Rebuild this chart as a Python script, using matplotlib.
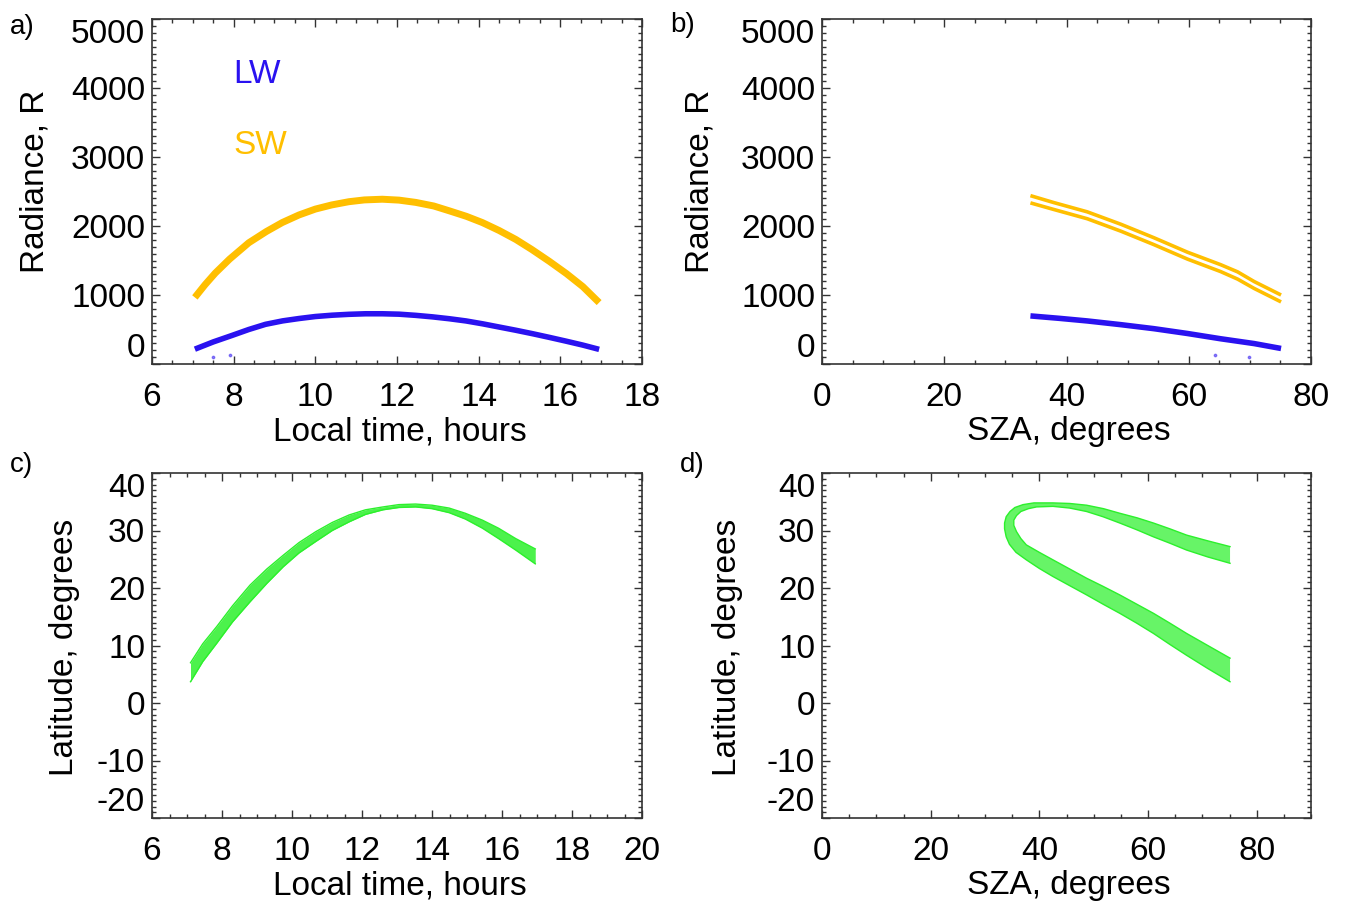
import numpy as np
import matplotlib
matplotlib.use("Agg")
import matplotlib.pyplot as plt
from matplotlib.ticker import MultipleLocator

plt.rcParams['font.family'] = ['Liberation Sans', 'DejaVu Sans']
plt.rcParams['axes.unicode_minus'] = False

# ---------------- data ----------------
# Panel a: radiance vs local time
lt_sw_a = [7.05, 7.3, 7.55, 7.9, 8.37, 8.8, 9.19, 9.6, 10.0, 10.4, 10.82, 11.2, 11.64,
           12.05, 12.46, 12.9, 13.28, 13.7, 14.09, 14.5, 14.91, 15.3, 15.73, 16.15, 16.55, 16.95]
sw_a = [965, 1150, 1318, 1520, 1757, 1920, 2050, 2160, 2245, 2305, 2352, 2378, 2388,
        2375, 2342, 2290, 2220, 2140, 2050, 1935, 1805, 1660, 1488, 1310, 1122, 890]
lt_lw_a = [7.05, 7.5, 7.96, 8.37, 8.78, 9.2, 9.6, 10.0, 10.41, 10.82, 11.23, 11.64, 12.05,
           12.46, 12.87, 13.28, 13.69, 14.1, 14.5, 14.91, 15.32, 15.73, 16.14, 16.55, 16.95]
lw_a = [215, 320, 414, 500, 575, 625, 659, 688, 707, 720, 728, 728, 722,
        705, 683, 656, 624, 582, 536, 489, 439, 386, 331, 274, 212]
lt_stray = [7.5, 7.9]
lw_stray = [107, 136]

# Panel b: radiance vs SZA (two close SW tracks)
sza_sw_b = [34.1, 37.9, 43.4, 48.9, 54.3, 59.8, 65.2, 68.0, 70.7, 75.1]
sw_b_upper = [2440, 2340, 2205, 2025, 1830, 1620, 1440, 1335, 1195, 1000]
sw_b_lower = [2335, 2240, 2105, 1925, 1730, 1520, 1340, 1230, 1095, 900]
sza_lw_b = [34.1, 38.8, 43.4, 48.9, 54.3, 59.8, 65.2, 70.7, 75.1]
lw_b = [697, 662, 624, 570, 512, 442, 366, 296, 225]
sza_stray = [64.3, 69.9]
lw_stray_b = [132, 107]

# Panel c: latitude vs local time (band edges)
lt_c = [7.1, 7.45, 7.85, 8.3, 8.8, 9.28, 9.75, 10.2, 10.68, 11.15, 11.63, 12.1, 12.6,
        13.05, 13.53, 14.0, 14.49, 14.95, 15.44, 15.9, 16.39, 16.95]
lat_c_upper = [7.0, 10.3, 13.3, 16.9, 20.5, 23.3, 25.7, 27.9, 29.8, 31.4, 32.7, 33.6, 34.1,
               34.5, 34.6, 34.4, 33.9, 33.0, 31.8, 30.4, 28.6, 26.8]
lat_c_lower = [3.7, 7.2, 10.4, 14.1, 17.6, 20.8, 23.7, 26.1, 28.1, 30.0, 31.5, 32.8, 33.6,
               34.0, 34.1, 33.8, 33.1, 32.0, 30.4, 28.6, 26.6, 24.2]

# Panel d: latitude vs SZA (outer and inner edges of the loop)
sza_d_outer = [75.1, 71.0, 67.1, 64.0, 61.0, 57.9, 54.8, 51.7, 48.7, 45.6, 42.5, 40.0, 37.6,
               35.7, 34.5, 33.9, 33.6, 33.6, 33.9, 34.6, 35.5, 37.0, 39.0, 42.5, 45.6, 48.7,
               51.8, 54.8, 58.0, 61.0, 64.0, 67.1, 71.0, 75.1]
lat_d_outer = [3.7, 6.0, 8.3, 10.2, 12.1, 13.9, 15.6, 17.2, 18.8, 20.4, 22.0, 23.4, 24.9,
               26.2, 27.6, 28.9, 30.3, 31.3, 32.4, 33.3, 34.0, 34.5, 34.8, 34.8, 34.7, 34.4,
               33.8, 33.0, 32.2, 31.3, 30.3, 29.2, 28.2, 27.2]
sza_d_inner = [75.1, 71.0, 67.1, 64.0, 61.0, 57.9, 54.8, 51.7, 48.7, 45.6, 42.5, 40.0, 37.6,
               36.6, 35.8, 35.3, 35.3, 35.8, 36.6, 38.0, 39.5, 42.5, 45.6, 48.7, 51.7, 54.8,
               58.0, 61.0, 64.0, 67.1, 71.0, 75.1]
lat_d_inner = [7.8, 10.0, 12.1, 13.9, 15.6, 17.2, 18.8, 20.3, 21.7, 23.3, 24.9, 26.2, 27.5,
               28.6, 29.8, 30.9, 31.8, 32.6, 33.3, 33.8, 34.1, 34.2, 33.9, 33.3, 32.4, 31.3,
               30.1, 28.9, 27.8, 26.6, 25.4, 24.3]

# Axes settings
rad_ticks = [0, 1000, 2000, 3000, 4000, 5000]
lat_ticks = [-20, -10, 0, 10, 20, 30, 40]

BLUE = '#2a12f0'
GOLD = '#ffbf00'
GREEN = '#2cf02c'

FS = 24

fig = plt.figure(figsize=(13.45, 9.10), dpi=100)
W, H = 1345.0, 910.0

def make_ax(l, r, t, b):
    return fig.add_axes([l / W, 1 - b / H, (r - l) / W, (b - t) / H])

axa = make_ax(152, 642, 19, 364)
axb = make_ax(822, 1311, 19, 364)
axc = make_ax(152, 642, 473, 818)
axd = make_ax(822, 1311, 473, 818)

def style(ax, xlim, xmaj, xmin, ylim, ymin, yticks):
    ax.set_xlim(*xlim)
    ax.set_ylim(*ylim)
    ax.xaxis.set_major_locator(MultipleLocator(xmaj))
    ax.xaxis.set_minor_locator(MultipleLocator(xmin))
    ax.set_yticks(yticks)
    ax.yaxis.set_minor_locator(MultipleLocator(ymin))
    ax.tick_params(which='both', direction='in', top=True, right=True,
                   width=1.0, color='#333333')
    ax.tick_params(which='major', length=6)
    ax.tick_params(which='minor', length=3)
    ax.tick_params(axis='x', which='major', pad=13, labelsize=FS)
    ax.tick_params(axis='y', which='major', pad=5, labelsize=FS)
    for s in ax.spines.values():
        s.set_linewidth(1.2)
        s.set_color('#333333')
    ticks = ax.yaxis.get_major_ticks()
    ticks[0].label1.set_va('bottom')
    ticks[-1].label1.set_va('top')

style(axa, (6, 18), 2, 0.5, (0, 5000), 100, rad_ticks)
style(axb, (0, 80), 20, 5, (0, 5000), 100, rad_ticks)
style(axc, (6, 20), 2, 0.5, (-20, 40), 1, lat_ticks)
style(axd, (0, 90), 20, 5, (-20, 40), 1, lat_ticks)

# Panel a
axa.plot(lt_sw_a, sw_a, color=GOLD, lw=5, solid_capstyle='butt', solid_joinstyle='round')
axa.plot(lt_lw_a, lw_a, color=BLUE, lw=4, solid_capstyle='butt', solid_joinstyle='round')
axa.scatter(lt_stray, lw_stray, s=3, color=BLUE, alpha=0.5)
axa.text(8.0, 4200, 'LW', color=BLUE, fontsize=FS, va='center', ha='left')
axa.text(8.0, 3170, 'SW', color=GOLD, fontsize=FS, va='center', ha='left')

# Panel b
axb.plot(sza_sw_b, sw_b_upper, color=GOLD, lw=2.6, solid_capstyle='butt')
axb.plot(sza_sw_b, sw_b_lower, color=GOLD, lw=2.6, solid_capstyle='butt')
axb.plot(sza_lw_b, lw_b, color=BLUE, lw=4, solid_capstyle='butt')
axb.scatter(sza_stray, lw_stray_b, s=3, color=BLUE, alpha=0.5)

# Panel c
axc.fill_between(lt_c, lat_c_lower, lat_c_upper, color=GREEN, alpha=0.85, lw=0)
axc.plot(lt_c, lat_c_upper, color=GREEN, lw=1.0)
axc.plot(lt_c, lat_c_lower, color=GREEN, lw=1.0)

# Panel d
poly_x = np.r_[np.asarray(sza_d_outer), np.asarray(sza_d_inner)[::-1]]
poly_y = np.r_[np.asarray(lat_d_outer), np.asarray(lat_d_inner)[::-1]]
axd.fill(poly_x, poly_y, color=GREEN, alpha=0.72, lw=0)
axd.plot(sza_d_outer, lat_d_outer, color=GREEN, lw=1.0)
axd.plot(sza_d_inner, lat_d_inner, color=GREEN, lw=1.0)

# Axis labels
for ax, xl, yl, ylx in [(axa, 'Local time, hours', 'Radiance, R', -0.239),
                        (axb, 'SZA, degrees', 'Radiance, R', -0.249),
                        (axc, 'Local time, hours', 'Latitude, degrees', -0.178),
                        (axd, 'SZA, degrees', 'Latitude, degrees', -0.194)]:
    ax.set_xlabel(xl, fontsize=FS)
    ax.set_ylabel(yl, fontsize=FS)
    ax.xaxis.set_label_coords(0.505, -0.197)
    ax.yaxis.label.set_va('center')
    ax.xaxis.label.set_va('center')
    ax.yaxis.set_label_coords(ylx, 0.53 if ax in (axa, axb) else 0.496)

# Panel letters
fig.text(10 / W, 1 - 27 / H, 'a)', fontsize=20, va='center', ha='left')
fig.text(670 / W, 1 - 25 / H, 'b)', fontsize=20, va='center', ha='left')
fig.text(10 / W, 1 - 465 / H, 'c)', fontsize=20, va='center', ha='left')
fig.text(680 / W, 1 - 465 / H, 'd)', fontsize=20, va='center', ha='left')

fig.savefig('out.png', dpi=100)
